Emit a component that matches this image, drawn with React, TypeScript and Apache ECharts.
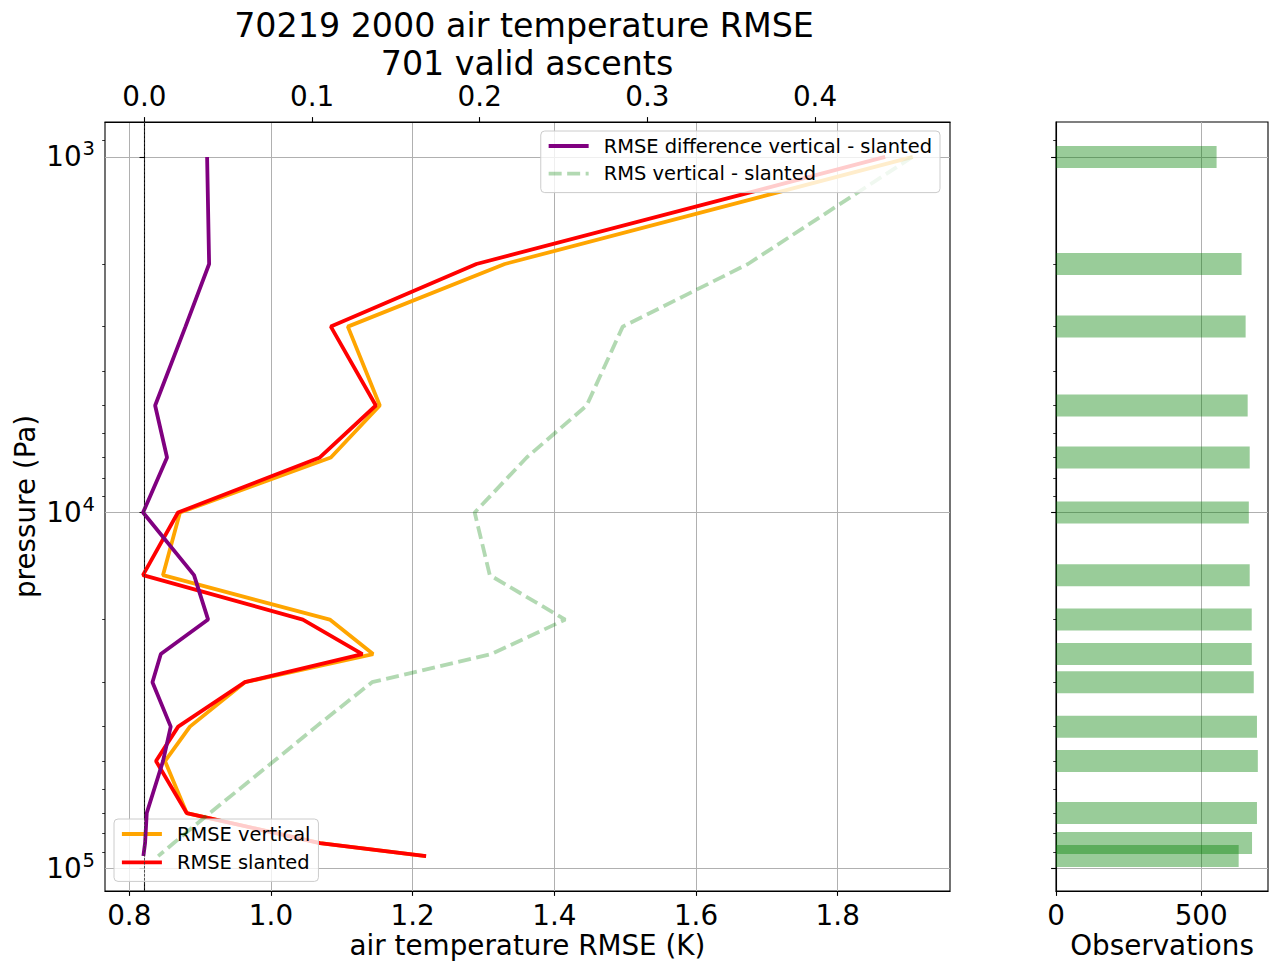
import React, { useEffect, useRef } from 'react';
import * as echarts from 'echarts';

// ---- data ----
const PRESSURE = [1000, 2000, 3000, 5000, 7000, 10000, 15000, 20000, 25000, 30000, 40000, 50000, 70000, 85000, 92500];
const RMSE_VERTICAL = [1.906, 1.33, 1.1085, 1.1536, 1.0845, 0.8715, 0.8475, 1.083, 1.1441, 0.9632, 0.8856, 0.8504, 0.881, 1.0694, 1.2184];
const RMSE_SLANTED = [1.867, 1.29, 1.0845, 1.148, 1.069, 0.8687, 0.8193, 1.045, 1.129, 0.9632, 0.869, 0.8377, 0.881, 1.069, 1.219];
const RMSE_DIFF = [0.0374, 0.0386, 0.0245, 0.0064, 0.0135, -0.0008, 0.0296, 0.038, 0.0098, 0.0048, 0.0157, 0.0111, 0.0014, 0.0004, -0.0006];
const RMS_DIFF = [0.458, 0.36, 0.2853, 0.2638, 0.228, 0.197, 0.206, 0.251, 0.207, 0.1358, 0.1024, 0.0773, 0.039, 0.0175, 0.0082];
const OBSERVATIONS = [553, 639, 653, 660, 667, 664, 667, 674, 674, 681, 692, 695, 692, 675, 629];

const TEMP_TICKS = [0.8, 1.0, 1.2, 1.4, 1.6, 1.8];
const DIFF_TICKS = [0, 0.1, 0.2, 0.3, 0.4];
const OBS_TICKS = [0, 500];
const PRESSURE_TICKS = [1000, 10000, 100000];
const PRESSURE_MINOR = [900, 2000, 3000, 4000, 5000, 6000, 7000, 8000, 9000, 20000, 30000, 40000, 50000, 60000, 70000, 80000, 90000];

const TITLE_LINES = ['70219 2000 air temperature RMSE', '701 valid ascents'];

const FONT = 'DejaVu Sans';

export default function App() {
  const ref = useRef<HTMLDivElement>(null);

  useEffect(() => {
    const chart = echarts.init(ref.current!, null, { renderer: 'svg', width: 1280, height: 973 });
    const pair = (xs: number[]) => xs.map((x, i) => [x, PRESSURE[i]]);

    const P_MIN = 797.4;
    const P_MAX = 115960;
    const LW = 3.8;

    const spine = { show: true, lineStyle: { color: '#000', width: 1.1 } };
    const majorTick = { show: true, length: 4.9, lineStyle: { color: '#000', width: 1.1 } };
    const gridLine = { show: true, lineStyle: { color: '#b0b0b0', width: 1, type: 'solid' } };
    const tickFont = { fontFamily: FONT, fontSize: 27.8, color: '#000' };
    const nameFont = { fontFamily: FONT, fontSize: 27.8, color: '#000' };
    const legendText = { fontFamily: FONT, fontSize: 19.44, color: '#000', lineHeight: 20, padding: [0, 0, 0, 10] };

    const yMajor = (gridIndex: number, showLabel: boolean) => ({
      type: 'log',
      logBase: 10,
      gridIndex,
      min: P_MIN,
      max: P_MAX,
      inverse: true,
      position: 'left',
      offset: 0,
      axisLine: spine,
      axisTick: { ...majorTick, customValues: PRESSURE_TICKS },
      splitLine: gridLine,
      minorTick: { show: false },
      axisLabel: showLabel
        ? {
            customValues: PRESSURE_TICKS,
            margin: 10,
            formatter: (v: number) => `{b|10}{s|${Math.round(Math.log10(v))}}`,
            rich: {
              b: { fontFamily: FONT, fontSize: 27.8, color: '#000' },
              s: { fontFamily: FONT, fontSize: 19.5, color: '#000', padding: [0, 0, 16, 1] },
            },
          }
        : { show: false, customValues: PRESSURE_TICKS },
      name: showLabel ? 'pressure (Pa)' : '',
      nameLocation: 'middle',
      nameGap: 66,
      nameRotate: 90,
      nameMoveOverlap: false,
      nameTextStyle: nameFont,
    });

    const yMinor = (gridIndex: number) => ({
      type: 'log',
      logBase: 10,
      gridIndex,
      min: P_MIN,
      max: P_MAX,
      inverse: true,
      position: 'left',
      offset: 0,
      axisLine: { show: false },
      axisTick: { show: true, length: 2.8, lineStyle: { color: '#000', width: 0.8 }, customValues: PRESSURE_MINOR },
      axisLabel: { show: false, customValues: PRESSURE_MINOR },
      splitLine: { show: false },
    });

    const legendCommon = {
      orient: 'vertical',
      padding: [5, 8, 9, 6],
      itemWidth: 40,
      itemHeight: 14,
      textStyle: legendText,
      backgroundColor: 'rgba(255,255,255,0.8)',
      borderColor: '#cccccc',
      borderWidth: 1,
      borderRadius: 4,
      selectedMode: false,
      itemStyle: { opacity: 0, borderWidth: 0 },
      lineStyle: { width: LW },
    };

    const option: any = {
      animation: false,
      backgroundColor: '#fff',
      textStyle: { fontFamily: FONT },
      grid: [
        { left: 105, top: 122, width: 845, height: 769, show: true, borderColor: '#000', borderWidth: 1.1, backgroundColor: 'transparent', outerBoundsMode: 'none', containLabel: false },
        { left: 1056, top: 122, width: 212, height: 769, show: true, borderColor: '#000', borderWidth: 1.1, backgroundColor: 'transparent', outerBoundsMode: 'none', containLabel: false },
      ],
      xAxis: [
        {
          type: 'value',
          gridIndex: 0,
          position: 'bottom',
          min: 0.7657,
          max: 1.9585,
          axisLine: spine,
          axisTick: { ...majorTick, customValues: TEMP_TICKS },
          axisLabel: { ...tickFont, customValues: TEMP_TICKS, margin: 10, formatter: (v: number) => v.toFixed(1) },
          splitLine: gridLine,
          name: 'air temperature RMSE (K)',
          nameLocation: 'middle',
          nameGap: 40,
          nameMoveOverlap: false,
          nameTextStyle: nameFont,
        },
        {
          type: 'value',
          gridIndex: 0,
          position: 'top',
          min: -0.0235,
          max: 0.4805,
          axisLine: spine,
          axisTick: { ...majorTick, customValues: DIFF_TICKS },
          axisLabel: { ...tickFont, customValues: DIFF_TICKS, margin: 12, formatter: (v: number) => v.toFixed(1) },
          splitLine: { show: false },
        },
        {
          type: 'value',
          gridIndex: 1,
          position: 'bottom',
          min: 0,
          max: 730,
          axisLine: spine,
          axisTick: { ...majorTick, customValues: OBS_TICKS },
          axisLabel: { ...tickFont, customValues: OBS_TICKS, margin: 10, formatter: (v: number) => String(v) },
          splitLine: gridLine,
          name: 'Observations',
          nameLocation: 'middle',
          nameGap: 40,
          nameMoveOverlap: false,
          nameTextStyle: nameFont,
        },
      ],
      yAxis: [yMajor(0, true), yMinor(0), yMajor(1, false), yMinor(1)],
      legend: [
        {
          ...legendCommon,
          data: ['RMSE vertical', 'RMSE slanted'],
          left: 114,
          top: 819,
          itemGap: 8.4,
          z: 3,
        },
        {
          ...legendCommon,
          data: ['RMSE difference vertical - slanted', 'RMS vertical - slanted'],
          right: 340,
          top: 131,
          itemGap: 7.6,
          z: 6,
        },
      ],
      graphic: [
        { type: 'text', x: 524, y: 25, z: 10, style: { text: TITLE_LINES[0], font: `33.3px "${FONT}"`, fill: '#000', align: 'center', verticalAlign: 'middle' } },
        { type: 'text', x: 527, y: 63, z: 10, style: { text: TITLE_LINES[1], font: `33.3px "${FONT}"`, fill: '#000', align: 'center', verticalAlign: 'middle' } },
      ],
      series: [
        {
          type: 'line',
          name: 'RMSE vertical',
          xAxisIndex: 0,
          yAxisIndex: 0,
          data: pair(RMSE_VERTICAL),
          symbol: 'none',
          showSymbol: false,
          silent: true,
          lineStyle: { color: '#ffa500', width: LW },
          itemStyle: { color: '#ffa500' },
          z: 2,
        },
        {
          type: 'line',
          name: 'RMSE slanted',
          xAxisIndex: 0,
          yAxisIndex: 0,
          data: pair(RMSE_SLANTED),
          symbol: 'none',
          showSymbol: false,
          silent: true,
          lineStyle: { color: '#ff0000', width: LW },
          itemStyle: { color: '#ff0000' },
          z: 2,
        },
        {
          type: 'line',
          name: 'RMSE difference vertical - slanted',
          xAxisIndex: 1,
          yAxisIndex: 0,
          data: pair(RMSE_DIFF),
          symbol: 'none',
          showSymbol: false,
          silent: true,
          lineStyle: { color: '#800080', width: LW },
          itemStyle: { color: '#800080' },
          z: 4,
          markLine: {
            silent: true,
            symbol: ['none', 'none'],
            label: { show: false },
            lineStyle: { color: '#333', width: 0.8, type: [2.5, 1.5] },
            data: [{ xAxis: 0 }],
          },
        },
        {
          type: 'line',
          name: 'RMS vertical - slanted',
          xAxisIndex: 1,
          yAxisIndex: 0,
          data: pair(RMS_DIFF),
          symbol: 'none',
          showSymbol: false,
          silent: true,
          lineStyle: { color: 'rgba(0,128,0,0.3)', width: LW, type: [13, 5.5] },
          itemStyle: { color: 'rgba(0,128,0,0.3)' },
          z: 4,
        },
        {
          type: 'custom',
          name: 'Observations',
          xAxisIndex: 2,
          yAxisIndex: 2,
          silent: true,
          data: pair(OBSERVATIONS),
          encode: { x: 0, y: 1 },
          z: 2,
          renderItem: (_params: any, api: any) => {
            const p = api.value(1);
            const start = api.coord([0, p]);
            const end = api.coord([api.value(0), p]);
            const h = 22;
            return {
              type: 'rect',
              shape: { x: start[0], y: start[1] - h / 2, width: end[0] - start[0], height: h },
              style: { fill: 'rgba(0,128,0,0.4)' },
            };
          },
        },
      ],
    };

    chart.setOption(option);
    return () => chart.dispose();
  }, []);

  return <div ref={ref} style={{ position: 'fixed', left: 0, top: 0, width: 1280, height: 973, background: '#fff' }} />;
}
